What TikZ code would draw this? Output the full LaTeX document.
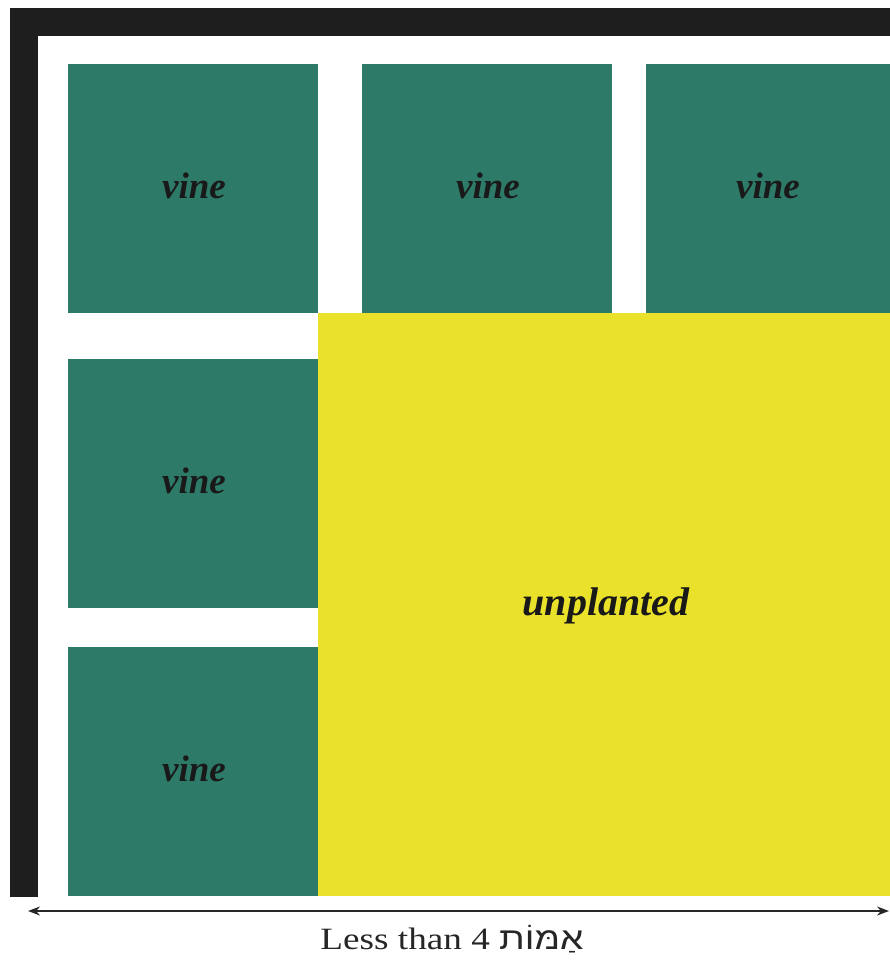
\documentclass[tikz,border=0pt]{standalone}
\usepackage{fontspec}
\setmainfont{Liberation Serif}
\newfontfamily\hebfont[Script=Hebrew]{Liberation Sans}
\TeXXeTstate=1
\usetikzlibrary{arrows.meta}
\definecolor{vinegreen}{RGB}{46,122,105}
\definecolor{fieldyellow}{RGB}{234,226,42}
\definecolor{framegray}{RGB}{30,30,30}
\tikzset{
  vinebox/.style={fill=vinegreen, draw=none, inner sep=0pt},
  plainbox/.style={fill=fieldyellow, draw=none, inner sep=0pt},
  vinelabel/.style={font=\fontsize{37}{40}\selectfont\bfseries\itshape, text=black!90, anchor=base},
  openlabel/.style={font=\fontsize{40}{44}\selectfont\bfseries\itshape, text=black!90, anchor=base},
  wallpart/.style={fill=framegray, draw=none},
  measure/.style={draw=black!85, line width=1.6pt, {Stealth[length=12pt,width=9pt]}-{Stealth[length=12pt,width=9pt]}}
}
\begin{document}
\begin{tikzpicture}[x=1pt,y=-1pt]
\useasboundingbox (0,0) rectangle (890,967);
\fill[white] (0,0) rectangle (890,967);
% wall
\fill[wallpart] (10,8) rectangle (890,36);
\fill[wallpart] (10,8) rectangle (38,897);
% unplanted area
\node[plainbox, minimum width=572pt, minimum height=583pt, anchor=north west] (U) at (318,313) {};
\node[openlabel] (Ulab) at (606,615) {unplanted};
% vines
\node[vinebox, minimum width=250pt, minimum height=249pt, anchor=north west] (V1) at (68,64) {};
\node[vinebox, minimum width=250pt, minimum height=249pt, anchor=north west] (V2) at (362,64) {};
\node[vinebox, minimum width=244pt, minimum height=249pt, anchor=north west] (V3) at (646,64) {};
\node[vinebox, minimum width=250pt, minimum height=249pt, anchor=north west] (V4) at (68,359) {};
\node[vinebox, minimum width=250pt, minimum height=249pt, anchor=north west] (V5) at (68,647) {};
\node[vinelabel] (T1) at (194,198) {vine};
\node[vinelabel] (T2) at (488,198) {vine};
\node[vinelabel] (T3) at (768,198) {vine};
\node[vinelabel] (T4) at (194,493) {vine};
\node[vinelabel] (T5) at (194,781) {vine};
% measurement
\coordinate (L) at (28,911);
\coordinate (R) at (889,911);
\draw[measure] (L) -- (R);
\node[font=\fontsize{31}{34}\selectfont, text=black!85, anchor=base, xscale=1.2, transform shape] (cap) at (452,949) {Less than 4 {\hebfont\beginR אַמּוֹת\endR}};
\end{tikzpicture}
\end{document}
